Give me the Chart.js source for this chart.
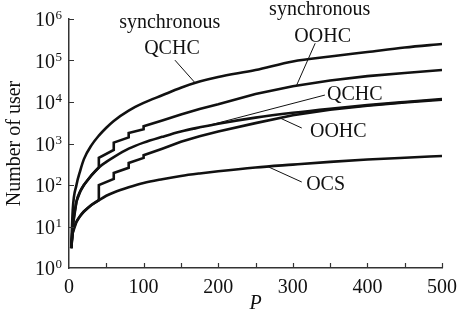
<!DOCTYPE html>
<html>
<head>
<meta charset="utf-8">
<script src="https://cdn.jsdelivr.net/npm/chart.js@4.4.1/dist/chart.umd.min.js"></script>
<style>
  html, body { margin: 0; padding: 0; background: #fff; }
  canvas { display: block; }
</style>
</head>
<body>
<canvas id="chart" width="457" height="321"></canvas>
<script>
// values (P, number of users)
const pSmooth = [3, 5, 10, 15, 20, 30, 40, 50, 60, 80, 100, 125, 150, 175, 200, 250, 300, 350, 400, 450, 500];
const syncQchc = [3, 25, 100, 220, 420, 900, 1550, 2400, 3500, 6200, 9500, 14500, 22000, 31000, 40000, 59000, 95000, 125000, 160000, 205000, 250000];
const qchc = [3, 10, 40, 70, 100, 170, 265, 360, 470, 750, 1050, 1450, 1950, 2450, 3000, 4200, 5500, 6900, 8400, 10000, 11800];
const ocs = [3, 7, 13, 18, 23, 33, 43, 55, 66, 88, 112, 138, 165, 190, 215, 265, 310, 360, 410, 455, 500];

// staircase curves: repeated P marks a jump
const pSyncOohc = [3, 5, 10, 15, 20, 30, 40, 40, 60, 60, 80, 80, 100, 100, 125, 150, 175, 200, 250, 300, 350, 400, 450, 500];
const syncOohc = [3, 10, 40, 70, 100, 170, 265, 450, 700, 1050, 1400, 1800, 2200, 2600, 3600, 5000, 6800, 8800, 15500, 24000, 33000, 42000, 50000, 59000];
const pOohc = [3, 5, 10, 15, 20, 30, 40, 40, 60, 60, 80, 80, 100, 100, 125, 150, 175, 200, 250, 300, 350, 400, 450, 500];
const oohc = [3, 7, 13, 18, 23, 33, 43, 100, 140, 195, 260, 340, 450, 520, 750, 1100, 1500, 1950, 3100, 4800, 6500, 8100, 9700, 11300];

const xTickMarks = [50, 100, 150, 200, 250, 300, 350, 400, 450, 500];
const yExponents = [0, 1, 2, 3, 4, 5, 6];

// curve labels and leader lines, in data coordinates
const notes = [
  { text: "synchronous", at: [135, 6.0e5] },
  { text: "QCHC", at: [138, 1.44e5] },
  { text: "synchronous", at: [336, 1.26e6] },
  { text: "OOHC", at: [340, 2.8e5] },
  { text: "QCHC", at: [383, 1.12e4] },
  { text: "OOHC", at: [361, 1435] },
  { text: "OCS", at: [344, 75] },
];
const leaders = [
  [[142, 1.02e5], [169, 2.9e4]],
  [[330, 2.6e5], [305, 2.5e4]],
  [[343, 1.47e4], [165, 2150]],
  [[312, 2360], [283, 4100]],
  [[312, 118], [267, 275]],
];

const serif = '"Liberation Serif", "Times New Roman", serif';
const ink = "#111";
const axisColor = "#333";

const toPoints = (ps, vs) => ps.map((p, i) => ({ x: p, y: vs[i] }));

const curve = (label, ps, vs, smooth) => ({
  label,
  data: toPoints(ps, vs),
  borderColor: ink,
  borderWidth: 2.6,
  pointRadius: 0,
  fill: false,
  tension: 0,
  cubicInterpolationMode: smooth ? "monotone" : "default",
});

const decorations = {
  id: "decorations",
  afterDraw(chart) {
    const { ctx, scales: { x, y } } = chart;
    ctx.save();

    // inward tick marks
    ctx.strokeStyle = axisColor;
    ctx.lineWidth = 1.2;
    ctx.beginPath();
    xTickMarks.forEach((p) => {
      const px = Math.round(x.getPixelForValue(p)) + 0.5;
      ctx.moveTo(px, y.bottom);
      ctx.lineTo(px, y.bottom - 5);
    });
    yExponents.slice(1).forEach((e) => {
      const py = Math.round(y.getPixelForValue(10 ** e)) + 0.5;
      ctx.moveTo(x.left, py);
      ctx.lineTo(x.left + 5, py);
    });
    ctx.stroke();

    // 10^n labels
    ctx.fillStyle = ink;
    yExponents.forEach((e) => {
      const py = y.getPixelForValue(10 ** e);
      ctx.font = "20px " + serif;
      ctx.textAlign = "right";
      ctx.textBaseline = "middle";
      ctx.fillText("10", x.left - 14, py + 2);
      ctx.font = "13px " + serif;
      ctx.textAlign = "left";
      ctx.fillText(String(e), x.left - 13.5, py - 3);
    });

    // leader lines
    ctx.strokeStyle = ink;
    ctx.lineWidth = 1;
    ctx.beginPath();
    leaders.forEach(([a, b]) => {
      ctx.moveTo(x.getPixelForValue(a[0]), y.getPixelForValue(a[1]));
      ctx.lineTo(x.getPixelForValue(b[0]), y.getPixelForValue(b[1]));
    });
    ctx.stroke();

    // curve names
    ctx.font = "20px " + serif;
    ctx.textAlign = "center";
    ctx.textBaseline = "alphabetic";
    notes.forEach((n) => {
      ctx.fillText(n.text, x.getPixelForValue(n.at[0]), y.getPixelForValue(n.at[1]));
    });

    ctx.restore();
  },
};

new Chart(document.getElementById("chart"), {
  type: "line",
  data: {
    datasets: [
      curve("synchronous QCHC", pSmooth, syncQchc, true),
      curve("synchronous OOHC", pSyncOohc, syncOohc, false),
      curve("QCHC", pSmooth, qchc, true),
      curve("OOHC", pOohc, oohc, false),
      curve("OCS", pSmooth, ocs, true),
    ],
  },
  options: {
    responsive: false,
    animation: false,
    layout: { padding: { left: 0, right: 15, top: 19, bottom: 0 } },
    plugins: { legend: { display: false }, tooltip: { enabled: false } },
    scales: {
      x: {
        type: "linear",
        min: 0,
        max: 500,
        grid: { display: false, drawTicks: false },
        border: { display: true, color: axisColor, width: 1.5 },
        ticks: {
          stepSize: 100,
          color: ink,
          padding: 8,
          maxRotation: 0,
          font: { family: serif, size: 20 },
        },
        title: {
          display: true,
          text: "P",
          color: ink,
          padding: { top: 0, bottom: 5 },
          font: { family: serif, size: 20, style: "italic" },
        },
        afterFit: (scale) => {
          scale.height = 53;
          // let the "500" label run to the canvas edge as in the figure
          scale.paddingLeft = 0;
          scale.paddingRight = 0;
        },
      },
      y: {
        type: "logarithmic",
        min: 1,
        max: 1e6,
        grid: { display: false, drawTicks: false },
        border: { display: true, color: axisColor, width: 1.5 },
        ticks: { display: false },
        title: {
          display: true,
          text: "Number of user",
          color: ink,
          padding: { top: 3, bottom: 0 },
          font: { family: serif, size: 20 },
        },
        afterFit: (scale) => { scale.width = 69; },
      },
    },
  },
  plugins: [decorations],
});
</script>
</body>
</html>
